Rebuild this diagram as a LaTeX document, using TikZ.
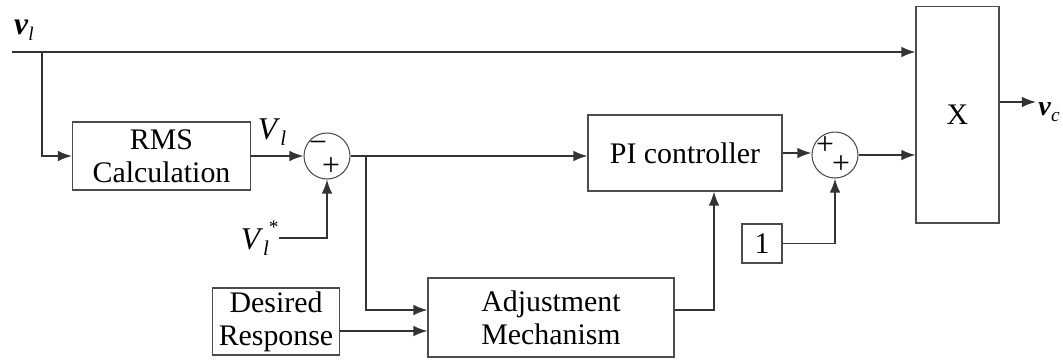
\documentclass[tikz,border=0pt]{standalone}
\usepackage{fontspec}
\setmainfont{Liberation Serif}
\usetikzlibrary{arrows.meta,calc}
\def\sig#1#2{\textbf{\textit{#1}}\raisebox{-0.45ex}{\fontsize{11}{11}\selectfont\textit{#2}}}

\begin{document}
\begin{tikzpicture}[x=0.02cm,y=-0.02cm,
	blk/.style={draw=black!70,line width=0.6pt,inner sep=1pt,align=center,font=\fontsize{17}{19}\selectfont},
	sum/.style={draw=black!70,line width=0.6pt,circle,minimum size=0.92cm,inner sep=0pt},
	sgn/.style={inner sep=0pt,font=\fontsize{18}{18}\selectfont},
	lbl/.style={inner sep=0pt,font=\fontsize{18}{18}\selectfont},
	wire/.style={line width=0.9pt,draw=black!80},
	arr/.style={wire,-{Latex[length=8pt,width=6pt]}}]
	%%%%% START %%%%%
	\useasboundingbox (0,0) rectangle (1063,360);
	
	% blocks
	\node[blk,minimum width=1.66cm,minimum height=4.34cm] (xbox) at (957.5,114.5) {X};
	\node[blk,minimum width=3.56cm,minimum height=1.36cm] (rms) at (161.5,156) {RMS\\Calculation};
	\node[blk,minimum width=3.88cm,minimum height=1.52cm] (pi) at (685,153) {PI controller};
	\node[blk,minimum width=4.92cm,minimum height=1.58cm] (adj) at (551,317.5) {Adjustment\\Mechanism};
	\node[blk,minimum width=2.54cm,minimum height=1.34cm] (des) at (276,321.5) {Desired\\Response};
	\node[blk,minimum width=0.8cm,minimum height=0.78cm] (one) at (762,243.5) {1};
	
	% summing points
	\node[sum] (sum1) at (327,156) {};
	\node[sgn] (s1a) at (318,147) {−};
	\node[sgn] (s1b) at (331,167) {+};
	\node[sum] (sum2) at (835,155) {};
	\node[sgn] (s2a) at (825,146) {+};
	\node[sgn] (s2b) at (841,165) {+};
	
	% labels
	\node[lbl] (vl) at (24,30) {\sig{v}{l}};
	\node[lbl,anchor=west,font=\fontsize{16}{16}\selectfont] (vc) at (1038,112) {\sig{v}{c}};
	\node[lbl] (Vl) at (272,132) {\textit{V}\raisebox{-0.45ex}{\fontsize{12}{12}\selectfont\textit{l}}};
	\node[lbl,anchor=east] (Vref) at (279,238) {\textit{V}\raisebox{-0.45ex}{\fontsize{12}{12}\selectfont\textit{l}}\raisebox{1.1ex}{\fontsize{11}{11}\selectfont *}};
	
	% wires
	\coordinate (start) at (12,52);
	\coordinate (br1) at (42,52);
	\coordinate (br2) at (366,156);
	\coordinate (vcout) at (1036,102);
	\coordinate (a1) at ([yshift=0.15cm]adj.west);
	\coordinate (a2) at ([yshift=-0.27cm]adj.west);
	
	\draw[arr] (start) -- (start -| xbox.west);
	\draw[arr] (br1) |- (rms.west);
	\draw[arr] (rms.east) -- (sum1.west);
	\draw[arr] (Vref.east) -| (sum1.south);
	\draw[arr] (sum1.east) -- (sum1.east -| pi.west);
	\draw[arr] (br2) |- (a1);
	\draw[arr] (a2 -| des.east) -- (a2);
	\draw[arr] ([yshift=0.15cm]adj.east) -| ([xshift=0.58cm]pi.south);
	\draw[arr] (pi.east) -- (pi.east -| sum2.west);
	\draw[arr] (one.east) -| (sum2.south);
	\draw[arr] (sum2.east) -- (sum2.east -| xbox.west);
	\draw[arr] (vcout -| xbox.east) -- (vcout);
	
	%%%%% END %%%%%
\end{tikzpicture}
\end{document}
